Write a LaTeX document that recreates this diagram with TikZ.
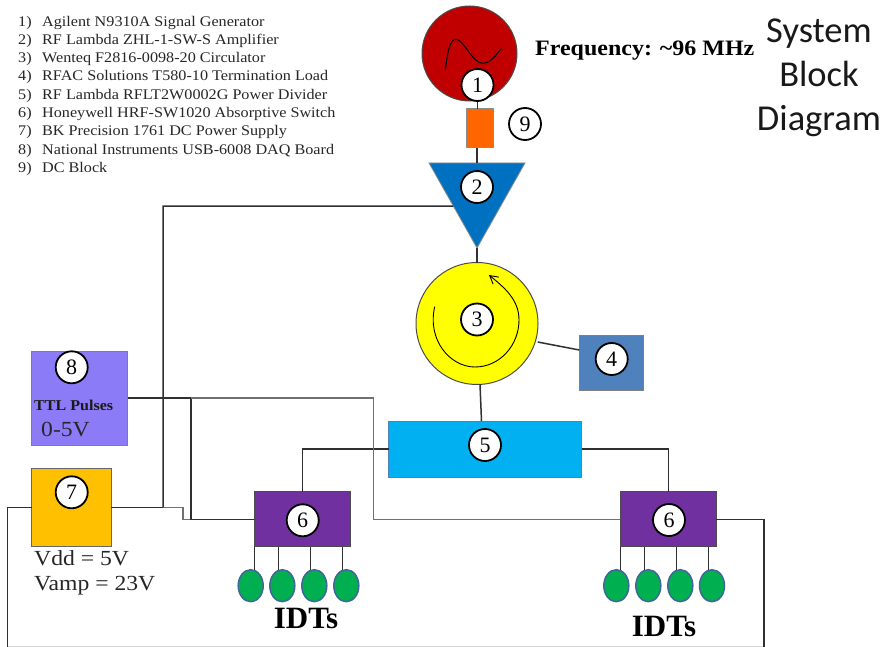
\documentclass[tikz,border=0pt]{standalone}
\usepackage{fontspec}
\setmainfont{Liberation Serif}
\newfontfamily\headfont{Carlito}
\newfontfamily\widefont[FakeStretch=1.1]{Liberation Serif}
\usetikzlibrary{calc,arrows.meta,shapes.geometric}
\definecolor{wire}{HTML}{303030}
\definecolor{wirelight}{HTML}{707070}
\definecolor{genred}{HTML}{C00000}
\definecolor{ampblue}{HTML}{0070C0}
\definecolor{circyellow}{HTML}{FFFF00}
\definecolor{loadblue}{HTML}{4F81BD}
\definecolor{divblue}{HTML}{00B0F0}
\definecolor{swpurple}{HTML}{7030A0}
\definecolor{daqviolet}{HTML}{8B7BF7}
\definecolor{psamber}{HTML}{FFC000}
\definecolor{idtgreen}{HTML}{00B050}
\definecolor{dcorange}{HTML}{FF6600}
\newcommand{\fs}[1]{\fontsize{#1}{#1}\selectfont}
\newcommand{\lnum}[1]{\makebox[24pt][l]{#1}}
\tikzset{
  x=1pt,y=-1pt,
  boxn/.style={draw=#1,line width=1pt,inner sep=0pt,outer sep=0pt,rectangle},
  tag/.style={circle,draw=black,line width=1.8pt,fill=white,minimum size=32pt,inner sep=0pt,font=\fs{22}},
  wireline/.style={draw=wire,line width=1.5pt},
  wirethin/.style={draw=wirelight,line width=1.3pt},
  idt/.style={ellipse,draw=loadblue!80!black,line width=1.5pt,fill=idtgreen,minimum width=25pt,minimum height=32pt,inner sep=0pt,outer sep=0pt},
  legend/.style={anchor=west,inner sep=0pt,font=\widefont\fs{14.7},text=black!85},
  head/.style={anchor=base,inner sep=0pt,font=\headfont\fs{36.5},text=black!90},
  volt/.style={anchor=west,inner sep=0pt,font=\widefont\fs{21.5},text=black!85},
  idtlabel/.style={inner sep=0pt,font=\bfseries\fs{31},text=black}
}
\begin{document}
\begin{tikzpicture}
\useasboundingbox (0,0) rectangle (885,647);
% shapes
\node[circle,draw=black!70,line width=1pt,fill=genred,minimum size=95pt,inner sep=0pt,outer sep=0pt] (gen) at (469.5,53.5) {};
\node[boxn=black!45,fill=dcorange,minimum width=27pt,minimum height=39pt] (dc) at (480.2,128.5) {};
\coordinate (ampL) at (429,163); \coordinate (ampR) at (525,163); \coordinate (ampA) at (477,248);
\coordinate (ampTop) at ($(ampL)!0.5!(ampR)$);
\coordinate (ampSide) at ($(ampL)!0.506!(ampA)$);
\node[circle,draw=black!70,line width=1pt,fill=circyellow,minimum size=122pt,inner sep=0pt,outer sep=0pt] (circ) at (477,323.5) {};
\node[boxn=black!50,fill=loadblue,minimum width=64.4pt,minimum height=55pt] (load) at (611.5,362.8) {};
\node[boxn=loadblue,fill=divblue,minimum width=192.7pt,minimum height=56pt] (div) at (485.3,449) {};
\node[boxn=black!70,fill=swpurple,minimum width=96pt,minimum height=54.7pt] (swL) at (302.3,519.3) {};
\node[boxn=black!70,fill=swpurple,minimum width=96pt,minimum height=54.7pt] (swR) at (668.3,519.3) {};
\node[boxn=black!50,fill=daqviolet,minimum width=96pt,minimum height=94pt] (daq) at (79.7,398) {};
\node[boxn=black!60,fill=psamber,minimum width=79.6pt,minimum height=78pt] (ps) at (71.5,507.7) {};
% junction coordinates
\coordinate (busA) at (163,206);
\coordinate (busB) at (163,507.7);
\coordinate (daqJ) at (191,398);
\coordinate (swJ) at (191,519.3);
\coordinate (daqFar) at (373.5,398);
\coordinate (swRin) at (373.5,519.3);
\coordinate (stepA) at (183,507.7);
\coordinate (stepB) at (183,519.3);
\coordinate (psFar) at (7.5,647);
\coordinate (swFar) at (764,647);
\coordinate (circE) at (537.7,342);
\coordinate (loadW) at (579.3,350);
\coordinate (circS) at (480,384.4);
\coordinate (divN) at (481.5,421);
% amp triangle
\fill[ampblue] (ampL) -- (ampR) -- (ampA) -- cycle;
\draw[draw=black!45,line width=.8pt,line join=miter] (ampL) -- (ampR) -- (ampA) -- cycle;
% idts
\foreach \n/\x in {1/250.7,2/282.3,3/314.3,4/346.3}{\node[idt] (idtL\n) at (\x,585.7) {};}
\foreach \n/\x in {1/616.3,2/648.3,3/680.3,4/712}{\node[idt] (idtR\n) at (\x,585.7) {};}
% connectors
\draw[wireline] (ampTop) -- (ampTop |- dc.south);
\draw[wireline] (ampA) -- (ampA |- circ.north);
\draw[wireline] (circE) -- (loadW);
\draw[wireline] (circS) -- (divN);
\draw[wireline] (div.west |- div.center) -| (swL.north);
\draw[wireline] (div.east |- div.center) -| (swR.north);
\draw[wireline] (ampSide) -- (busA) -- (busB);
\draw[wireline] (ps.east) -- (busB);
\draw[wirethin] (busB) -- (stepA) -- (stepB) -- (swJ);
\draw[wireline] (daq.east) -- (daqJ) -- (swJ) -- (swL.west);
\draw[wirethin] (daqJ) -- (daqFar) -- (swRin) -- (swR.west);
\draw[draw=black!15,line width=1pt] (7.5,646.5) -- (764,646.5);
\draw[wireline] (ps.west) -| (psFar);
\draw[wireline] (swR.east) -| (swFar);
\foreach \n/\x in {1/254.3,2/278.3,3/310.3,4/342.3}{\draw[wireline] (\x,546.7) -- (\x,570);}
\foreach \n/\x in {1/620.3,2/644.3,3/676.3,4/708.3}{\draw[wireline] (\x,546.7) -- (\x,570);}
% inner glyphs
\draw[black,line width=1pt] (445.3,70) .. controls (448,50) and (450,39.3) .. (456,39.3) .. controls (464,39.3) and (472,63.3) .. (483,63.3) .. controls (490,63.3) and (496,55) .. (501.7,48.3);
\draw[black,line width=.9pt,-{Straight Barb[length=8pt,width=9pt]}] (434.7,306.7) .. controls (427,340) and (450,367) .. (475,367) .. controls (500,367) and (519,345) .. (519,320) .. controls (519,300) and (505,288) .. (489,275);
% tags
\node[tag] (t1) at (477.5,85) {\raisebox{-1.5pt}{1}};
\node[tag] (t2) at (477,187) {\raisebox{-1.5pt}{2}};
\node[tag] (t3) at (477,319.5) {\raisebox{-1.5pt}{3}};
\node[tag] (t4) at (611.7,359) {\raisebox{-1.5pt}{4}};
\node[tag] (t5) at (485,445) {\raisebox{-1.5pt}{5}};
\node[tag] (t6a) at (302.7,520.3) {\raisebox{-1.5pt}{6}};
\node[tag] (t6b) at (669,520) {\raisebox{-1.5pt}{6}};
\node[tag] (t7) at (71.7,492.3) {\raisebox{-1.5pt}{7}};
\node[tag] (t8) at (71.7,367.3) {\raisebox{-1.5pt}{8}};
\node[tag] (t9) at (525,124) {\raisebox{-1.5pt}{9}};
\draw[wireline] (t1.south) -- (t1.south |- dc.north);
% text
\node[legend] (l1) at (18,22.5) {\lnum{1)}Agilent N9310A Signal Generator};
\node[legend] (l2) at (18,40.8) {\lnum{2)}RF Lambda ZHL-1-SW-S Amplifier};
\node[legend] (l3) at (18,59) {\lnum{3)}Wenteq F2816-0098-20 Circulator};
\node[legend] (l4) at (18,77.3) {\lnum{4)}RFAC Solutions T580-10 Termination Load};
\node[legend] (l5) at (18,95.6) {\lnum{5)}RF Lambda RFLT2W0002G Power Divider};
\node[legend] (l6) at (18,114) {\lnum{6)}Honeywell HRF-SW1020 Absorptive Switch};
\node[legend] (l7) at (18,132.2) {\lnum{7)}BK Precision 1761 DC Power Supply};
\node[legend] (l8) at (18,150.5) {\lnum{8)}National Instruments USB-6008 DAQ Board};
\node[legend] (l9) at (18,168.8) {\lnum{9)}DC Block};
\node[anchor=west,inner sep=0pt,font=\fs{22}] (freq) at (535,51) {\addfontfeatures{FakeStretch=1.09}\bfseries Frequency: \textasciitilde96 MHz};
\node[head] (h1) at (819,42.5) {System};
\node[head] (h2) at (819,87) {Block};
\node[head] (h3) at (819,131) {Diagram};
\node[anchor=west,inner sep=0pt,font=\fs{15},text=black!90] (ttl) at (34,405) {\addfontfeatures{FakeStretch=1.07}\bfseries TTL Pulses};
\node[volt] (v0) at (41,429.5) {0-5V};
\node[volt] (v1) at (34,558) {Vdd = 5V};
\node[volt] (v2) at (34,586) {Vamp = 23V};
\node[idtlabel] (il) at (306,618) {IDTs};
\node[idtlabel] (ir) at (664,626) {IDTs};
\end{tikzpicture}
\end{document}
